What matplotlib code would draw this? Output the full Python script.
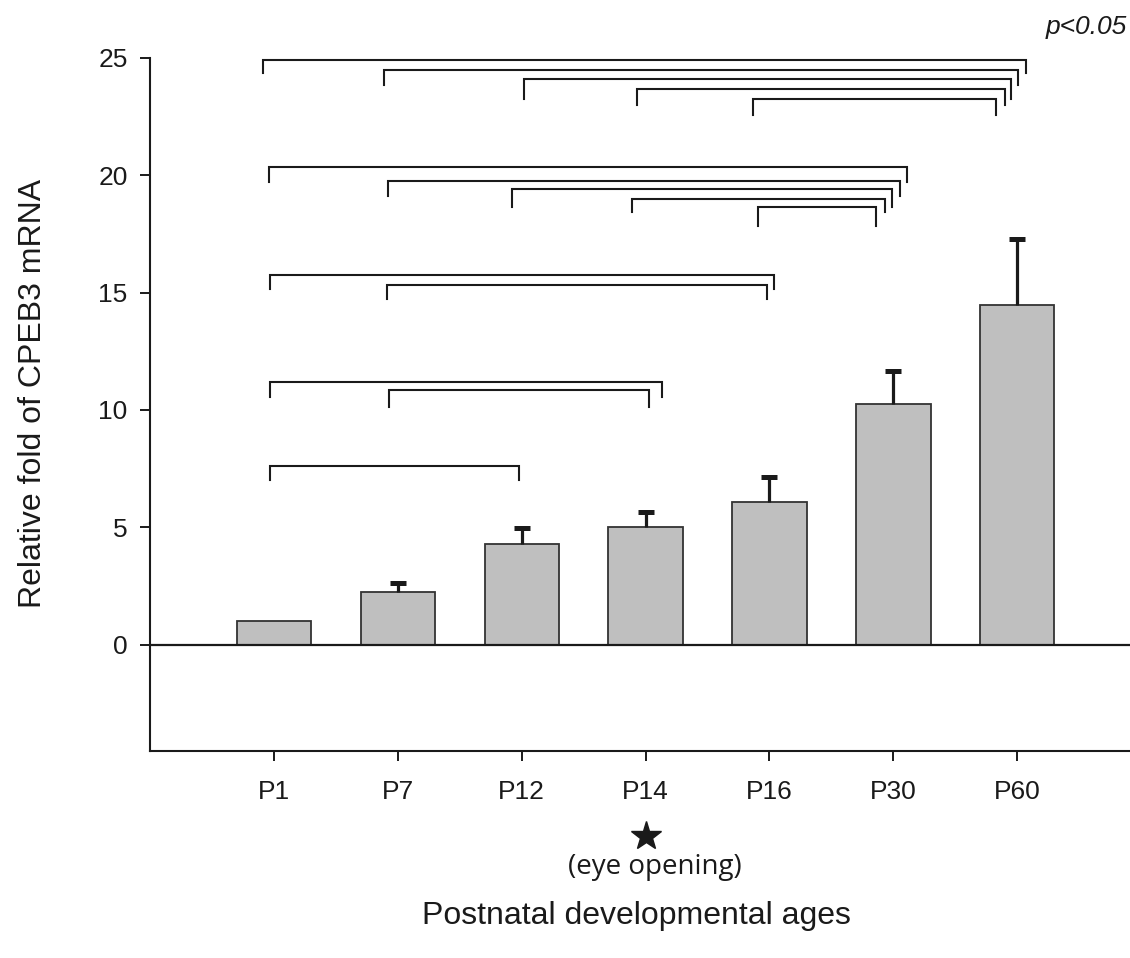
import numpy as np
import matplotlib
matplotlib.use("Agg")
import matplotlib.pyplot as plt

plt.rcParams['font.family'] = ['Liberation Sans', 'DejaVu Sans']

ages = ['P1', 'P7', 'P12', 'P14', 'P16', 'P30', 'P60']
fold = [1.0, 2.22, 4.27, 5.0, 6.09, 10.24, 14.48]
err_up = [0.0, 0.40, 0.68, 0.66, 1.07, 1.43, 2.82]

# significance brackets (p<0.05): left age, right age, bracket height
br_left = ['P1', 'P7', 'P12', 'P14', 'P16',
           'P1', 'P7', 'P12', 'P14', 'P16',
           'P1', 'P7',
           'P1', 'P7',
           'P1']
br_right = ['P60', 'P60', 'P60', 'P60', 'P60',
            'P30', 'P30', 'P30', 'P30', 'P30',
            'P16', 'P16',
            'P14', 'P14',
            'P12']
br_y = [24.91, 24.50, 24.09, 23.68, 23.26,
        20.34, 19.73, 19.42, 19.00, 18.66,
        15.75, 15.33,
        11.19, 10.84,
        7.63]
br_drop = [0.56, 0.68, 0.85, 0.70, 0.69,
           0.64, 0.61, 0.78, 0.59, 0.83,
           0.61, 0.60,
           0.62, 0.70,
           0.61]
# hand-drawn nudges of the bracket ends
br_dxl = [-0.09, -0.11, 0.02, -0.07, -0.13,
          -0.04, -0.08, -0.08, -0.11, -0.09,
          -0.03, -0.09,
          -0.03, -0.07,
          -0.03]
br_dxr = [0.07, 0.01, -0.05, -0.10, -0.17,
          0.11, 0.05, -0.01, -0.07, -0.14,
          0.04, -0.02,
          0.13, 0.03,
          -0.02]

W, H = 1130, 958
fig = plt.figure(figsize=(W / 100, H / 100), dpi=100)
ax = fig.add_axes([150 / W, 1 - 750.7 / H, 1 - 150 / W, (750.7 - 57.8) / H])

x = np.arange(len(ages))
ink = '#1a1a1a'

ax.bar(x, fold, width=0.6, color='#bfbfbf', edgecolor='#333333', linewidth=1.3, zorder=2)

# upper error bars only (P1 is the reference, no bar)
has_err = np.array(err_up) > 0
xe = x[has_err]
ye = np.array(fold)[has_err]
ee = np.array(err_up)[has_err]
_, caps, _ = ax.errorbar(xe, ye, yerr=[np.zeros(len(xe)), ee], fmt='none', ecolor=ink,
                         elinewidth=2.3, capsize=5.8, capthick=3.6, zorder=3)
caps[0].set_visible(False)

ax.axhline(0, color=ink, lw=1.6, zorder=4)

pos = {a: i for i, a in enumerate(ages)}
for l, r, y, d, dl, dr in zip(br_left, br_right, br_y, br_drop, br_dxl, br_dxr):
    xl = pos[l] + dl
    xr = pos[r] + dr
    ax.plot([xl, xl, xr, xr], [y - d, y, y, y - d], color=ink, lw=1.5,
            solid_joinstyle='miter', clip_on=False, zorder=5)

ax.set_xlim(-1.0, 6.91)
ax.set_ylim(-4.52, 25)
ax.set_yticks([0, 5, 10, 15, 20, 25])
ax.set_xticks(x)
ax.set_xticklabels(ages)

for s in ['top', 'right']:
    ax.spines[s].set_visible(False)
for s in ['left', 'bottom']:
    ax.spines[s].set_linewidth(1.5)
    ax.spines[s].set_color(ink)

ax.tick_params(axis='both', direction='out', length=7.2, width=1.4, color=ink,
               labelsize=19, labelcolor=ink)
ax.tick_params(axis='x', pad=14)
ax.tick_params(axis='y', pad=9)

fig.text(33 / W, 1 - 393 / H, 'Relative fold of CPEB3 mRNA', rotation=90,
         ha='center', va='center', fontsize=23, color=ink)
fig.text(636 / W, 1 - 916 / H, 'Postnatal developmental ages',
         ha='center', va='center', fontsize=23, color=ink)
fig.text(1086 / W, 1 - 27 / H, 'p<0.05', style='italic',
         ha='center', va='center', fontsize=19, color=ink)

ax.plot([646 / W], [1 - 836 / H], marker='*', ms=22, color=ink,
        transform=fig.transFigure, clip_on=False)
fig.text(655 / W, 1 - 867 / H, '(eye opening)', family=['Open Sans', 'DejaVu Sans'],
         ha='center', va='center', fontsize=20, color=ink)

fig.savefig('out.png', dpi=100)
